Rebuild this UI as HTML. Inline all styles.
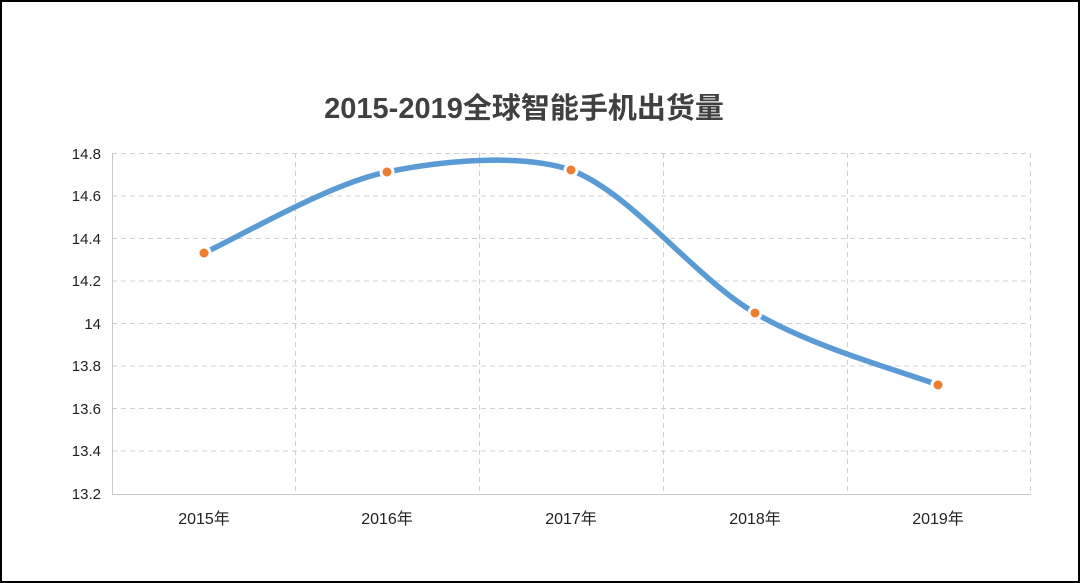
<!DOCTYPE html>
<html><head><meta charset="utf-8"><style>
html,body{margin:0;padding:0;background:#fff;}
svg{display:block;}
text{font-family:"Liberation Sans","Noto Sans CJK SC",sans-serif;}
</style></head><body>
<svg width="1080" height="583" viewBox="0 0 1080 583">
<rect x="1" y="1" width="1078" height="581" fill="#fff" stroke="#000" stroke-width="2"/>
<text x="524" y="118" text-anchor="middle" font-size="29" font-weight="bold" fill="#404040">2015-2019全球智能手机出货量</text>
<g stroke="#d0d0d0" stroke-width="1" stroke-dasharray="5,4" fill="none">
<line x1="112" y1="153.5" x2="1030" y2="153.5"/>
<line x1="112" y1="196" x2="1030" y2="196"/>
<line x1="112" y1="238.5" x2="1030" y2="238.5"/>
<line x1="112" y1="281" x2="1030" y2="281"/>
<line x1="112" y1="323.5" x2="1030" y2="323.5"/>
<line x1="112" y1="366" x2="1030" y2="366"/>
<line x1="112" y1="408.5" x2="1030" y2="408.5"/>
<line x1="112" y1="451" x2="1030" y2="451"/>
<line x1="295.5" y1="153" x2="295.5" y2="494"/>
<line x1="479.5" y1="153" x2="479.5" y2="494"/>
<line x1="663.5" y1="153" x2="663.5" y2="494"/>
<line x1="847.5" y1="153" x2="847.5" y2="494"/>
<line x1="1030.5" y1="153" x2="1030.5" y2="494"/>
</g>
<line x1="112.5" y1="153" x2="112.5" y2="494" stroke="#c8c8c8"/>
<line x1="112" y1="494.5" x2="1031" y2="494.5" stroke="#c8c8c8"/>
<g font-size="15" fill="#222" text-anchor="end">
<text x="101" y="159">14.8</text>
<text x="101" y="201">14.6</text>
<text x="101" y="244">14.4</text>
<text x="101" y="286">14.2</text>
<text x="101" y="329">14</text>
<text x="101" y="371">13.8</text>
<text x="101" y="414">13.6</text>
<text x="101" y="456">13.4</text>
<text x="101" y="499">13.2</text>
</g>
<g font-size="16" fill="#222" text-anchor="middle">
<text x="204" y="524">2015年</text>
<text x="387" y="524">2016年</text>
<text x="571" y="524">2017年</text>
<text x="755" y="524">2018年</text>
<text x="938" y="524">2019年</text>
</g>
<path d="M204,253 C234.5,239.5 330,183 387,172 C440,161 520,153 571,170 C632.3,193.5 693.8,277.2 755,313 C816.2,348.8 907.5,373 938,385" fill="none" stroke="#5b9bd5" stroke-width="5.5" stroke-linecap="round"/>
<g fill="#ed7d31" stroke="#fff" stroke-width="3">
<circle cx="204" cy="253" r="6"/>
<circle cx="387" cy="172" r="6"/>
<circle cx="571" cy="170" r="6"/>
<circle cx="755" cy="313" r="6"/>
<circle cx="938" cy="385" r="6"/>
</g>
</svg>
</body></html>
